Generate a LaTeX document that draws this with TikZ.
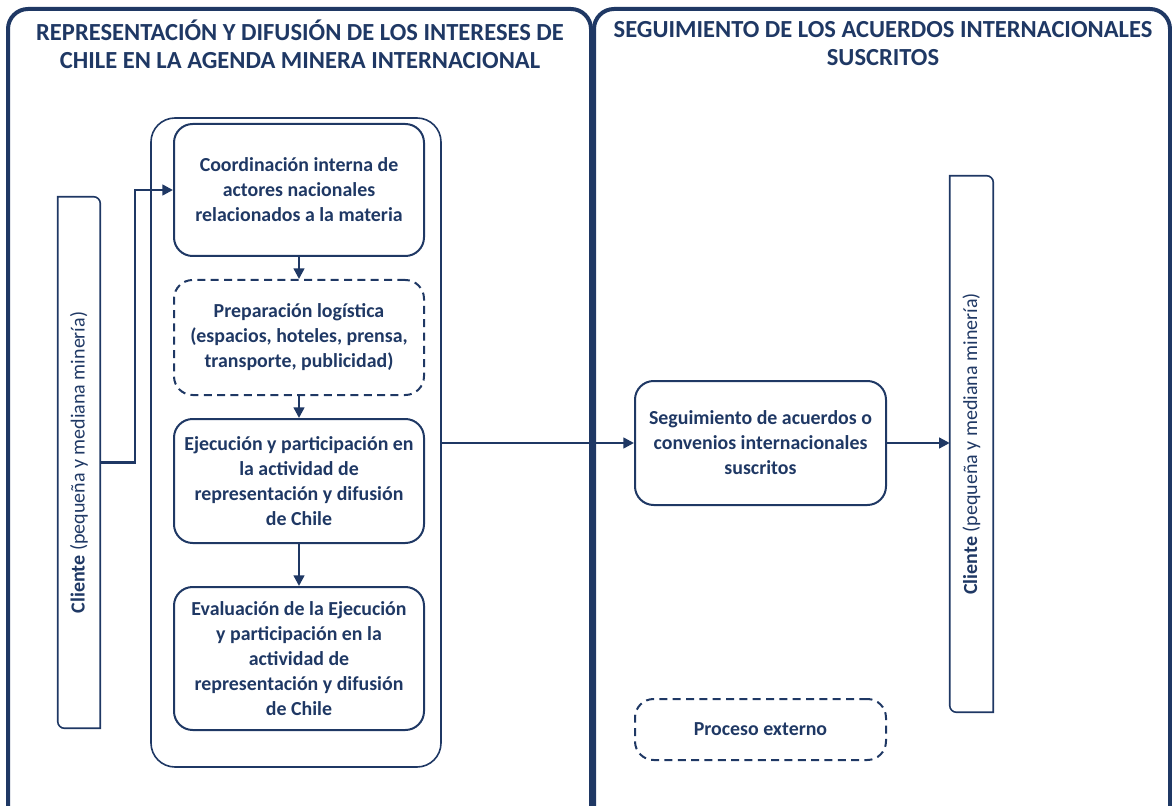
\documentclass[tikz,border=0pt]{standalone}
\usepackage{fontspec}
\setmainfont{Carlito}
\usetikzlibrary{arrows.meta}
\definecolor{navy}{HTML}{1F3864}
\tikzset{
  px/.style={x=0.75pt,y=-0.75pt},
  lane/.style={draw=navy,line width=3pt,rounded corners=15pt},
  procbox/.style={draw=navy,line width=1.5pt,rounded corners=14pt,align=center,text=navy,
    font=\fontsize{14.9}{18.75}\selectfont\bfseries,inner sep=0pt},
  extbox/.style={procbox,dashed,dash pattern=on 6pt off 4pt},
  container/.style={draw=navy,line width=1.2pt,rounded corners=18pt},
  clientbox/.style={inner sep=0pt,text=navy,font=\fontsize{15}{18}\selectfont},
  clientline/.style={draw=navy,line width=1.2pt},
  flow/.style={draw=navy,line width=1.8pt,-{Triangle[length=8pt,width=8pt]}},
  title/.style={align=center,text=navy,font=\fontsize{18.4}{21}\selectfont\bfseries}
}
\begin{document}
\begin{tikzpicture}[px]
\useasboundingbox (0,0) rectangle (1172,806);
\begin{scope}
\clip (0,0) rectangle (1172,806);
\draw[lane] (8,9) rectangle (591,830);
\draw[lane] (594,9) rectangle (1170,830);
\end{scope}
\node[title] (t1) at (300,44) {REPRESENTACIÓN Y DIFUSIÓN DE LOS INTERESES DE\\CHILE EN LA AGENDA MINERA INTERNACIONAL};
\node[title] (t2) at (883,44) {SEGUIMIENTO DE LOS ACUERDOS INTERNACIONALES\\SUSCRITOS};

\node[container,minimum width=217.5pt,minimum height=486.75pt] (cont) at (296,442.5) {};

\node[procbox,minimum width=187.5pt,minimum height=99pt] (b1) at (299,190)
  {Coordinación interna de\\actores nacionales\\relacionados a la materia};
\node[extbox,minimum width=187.5pt,minimum height=86.25pt] (b2) at (299,337.5)
  {Preparación logística\\(espacios, hoteles, prensa,\\transporte, publicidad)};
\node[procbox,minimum width=187.5pt,minimum height=93pt] (b3) at (299,481)
  {Ejecución y participación en\\la actividad de\\representación y difusión\\de Chile};
\node[procbox,minimum width=187.5pt,minimum height=107.25pt] (b4) at (299,658.5)
  {Evaluación de la Ejecución\\y participación en la\\actividad de\\representación y difusión\\de Chile};

\node[procbox,minimum width=188.25pt,minimum height=93pt] (seg) at (760.5,443)
  {Seguimiento de acuerdos o\\convenios internacionales\\suscritos};
\node[extbox,minimum width=188.25pt,minimum height=45.75pt] (ext) at (760.5,729.5)
  {Proceso externo};

% client boxes
\node[clientbox,minimum width=31.5pt,minimum height=398.25pt] (cl) at (79,462.5)
  {\rotatebox{90}{\textbf{Cliente} (pequeña y mediana minería)}};
\node[clientbox,minimum width=32.25pt,minimum height=402pt] (cr) at (971.5,444)
  {\rotatebox{90}{\textbf{Cliente} (pequeña y mediana minería)}};
\foreach \c in {cl,cr}{
  \draw[clientline] (\c.north west) -- ([xshift=-5pt]\c.north east)
    arc[start angle=90,end angle=0,radius=5pt] -- (\c.south east)
    -- ([xshift=5pt]\c.south west) arc[start angle=270,end angle=180,radius=5pt] -- cycle;
}

% connectors
\coordinate (k1) at (135,0);
\draw[flow] (cl.east) -| (k1 |- b1.west) -- (b1.west);
\draw[flow] (b1.south) -- (b2.north);
\draw[flow] (b2.south) -- (b3.north);
\draw[flow] (b3.south) -- (b4.north);
\draw[flow] (cont.east |- seg.west) -- (seg.west);
\draw[flow] (seg.east) -- (cr.west |- seg.east);
\end{tikzpicture}
\end{document}
